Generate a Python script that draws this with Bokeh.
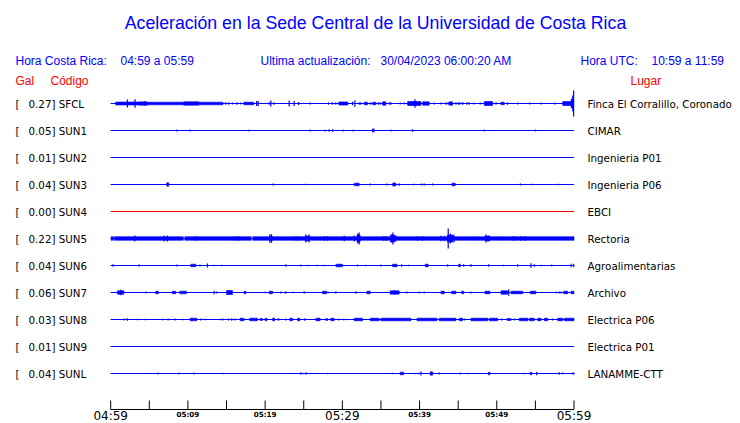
from bokeh.plotting import figure
from bokeh.models import Range1d
from bokeh.core.properties import value
from bokeh.embed import file_html
from bokeh.resources import INLINE

# ---------------- data ----------------
TITLE = "Aceleración en la Sede Central de la Universidad de Costa Rica"
HORA_CR = "04:59 a 05:59"
HORA_UTC = "10:59 a 11:59"
ACTUALIZACION = "30/04/2023 06:00:20 AM"

CODES = ["SFCL", "SUN1", "SUN2", "SUN3", "SUN4", "SUN5", "SUN6", "SUN7", "SUN8", "SUN9", "SUNL"]
GALS = [0.27, 0.05, 0.01, 0.04, 0.00, 0.22, 0.04, 0.06, 0.03, 0.01, 0.04]
PLACES = ["Finca El Corralillo, Coronado", "CIMAR", "Ingenieria P01", "Ingenieria P06", "EBCI",
          "Rectoria", "Agroalimentarias", "Archivo", "Electrica P06", "Electrica P01", "LANAMME-CTT"]

TICK_MINUTES = [0, 5, 10, 15, 20, 25, 30, 35, 40, 45, 50, 55, 60]
TICK_LABELS = ["04:59", "", "05:09", "", "05:19", "", "05:29", "", "05:39", "", "05:49", "", "05:59"]
MAJOR_TICK_LABELS = ["04:59", "05:29", "05:59"]

# bursts: (start minute, end minute, amplitude); spikes: (minute, amplitude)
SFCL_BURSTS = [(0.65, 4.80, 1.5), (4.80, 9.46, 1.3), (9.46, 11.40, 1.7), (11.40, 14.52, 1.3),
               (17.24, 18.53, 1.3), (29.55, 30.72, 1.6), (32.83, 33.27, 1.3), (33.92, 34.34, 1.3),
               (35.21, 35.64, 1.7), (38.45, 40.18, 2.0), (40.40, 41.25, 1.7), (43.84, 44.28, 1.7),
               (48.38, 49.47, 2.0), (50.54, 50.97, 1.3), (58.54, 59.62, 2.0), (59.62, 59.94, 4.0)]
SFCL_SPIKES = [(2.16, 4.0), (3.15, 4.3), (3.76, 2.3), (4.15, 2.3), (4.45, 2.5), (4.54, 2.3),
               (14.90, 1.3), (15.29, 1.3), (15.81, 1.0), (16.33, 1.3), (16.85, 1.0), (18.90, 2.5),
               (19.10, 2.5), (20.52, 1.2), (20.74, 3.0), (21.12, 1.3), (23.11, 3.0), (23.76, 2.5),
               (24.33, 1.5), (25.83, 1.0), (28.21, 1.3), (28.73, 1.3), (29.16, 1.3), (31.32, 1.7),
               (31.62, 3.3), (32.18, 1.3), (32.40, 1.3), (33.61, 1.3), (34.64, 1.3), (34.90, 1.3),
               (36.07, 1.3), (36.29, 1.3), (37.49, 1.0), (38.01, 1.0), (39.40, 4.3), (41.90, 1.0),
               (42.77, 1.0), (43.42, 1.3), (43.71, 1.3), (44.71, 1.3), (45.01, 1.3), (45.23, 1.3),
               (45.58, 1.3), (46.14, 1.3), (46.44, 1.3), (47.01, 1.0), (47.86, 1.0), (49.90, 1.3),
               (51.41, 1.3), (52.71, 1.0), (54.26, 1.0), (55.77, 1.0), (57.50, 1.0), (59.75, 5.0),
               (59.85, 8.0), (59.95, 13.0)]

SUN1_BURSTS = []
SUN1_SPIKES = [(8.55, 1.0), (10.28, 1.0), (17.92, 1.0), (25.83, 1.0), (27.77, 1.0), (28.29, 1.3),
               (28.73, 1.3), (30.11, 1.0), (31.40, 1.0), (33.92, 1.7), (34.08, 2.0), (36.29, 1.0),
               (39.10, 1.3), (48.38, 1.0), (54.99, 1.0)]

SUN2_BURSTS = []
SUN2_SPIKES = []

SUN3_BURSTS = [(7.26, 7.52, 1.7), (31.53, 32.18, 1.3), (36.51, 36.94, 1.3), (44.19, 44.62, 1.3)]
SUN3_SPIKES = [(21.03, 1.0), (25.31, 0.7), (33.61, 1.0), (35.73, 1.0), (36.68, 2.0), (37.36, 1.3),
               (39.23, 0.7), (40.27, 1.0), (40.60, 1.0), (41.69, 1.0), (53.05, 1.0), (54.60, 0.7),
               (57.97, 0.7)]

SUN4_BURSTS = []
SUN4_SPIKES = []

SUN5_BURSTS = [(0.05, 0.35, 1.8), (0.50, 9.40, 1.8), (9.60, 18.20, 1.8), (18.40, 60.0, 1.8),
               (20.60, 20.90, 2.5), (25.20, 25.70, 2.5), (31.90, 32.30, 3.5), (36.30, 36.80, 3.5),
               (43.60, 44.30, 3.5), (48.50, 49.00, 2.5)]
SUN5_SPIKES = [(3.11, 3.0), (6.91, 3.0), (7.35, 3.0), (11.11, 2.3), (16.11, 2.3), (16.55, 2.3),
               (20.61, 4.3), (20.83, 4.3), (23.76, 2.0), (24.11, 2.0), (24.40, 2.0), (25.27, 4.0),
               (25.70, 4.0), (27.64, 2.3), (28.08, 2.3), (30.24, 2.7), (31.53, 3.0), (32.00, 5.0),
               (32.18, 6.0), (35.34, 2.3), (35.64, 2.3), (36.29, 4.0), (36.55, 6.0), (36.94, 3.0),
               (39.75, 2.3), (40.40, 2.3), (42.77, 2.7), (43.20, 2.7), (43.71, 10.0), (44.00, 5.0),
               (44.45, 4.0), (47.30, 1.7), (48.60, 4.0), (49.03, 3.0), (50.54, 2.0), (52.06, 2.0),
               (52.27, 2.0), (53.14, 2.3), (53.65, 2.3)]

SUN6_BURSTS = [(10.37, 11.02, 1.3), (29.16, 30.03, 1.3), (36.51, 37.07, 1.3), (40.73, 41.12, 1.3),
               (45.06, 45.27, 1.3)]
SUN6_SPIKES = [(0.30, 1.3), (3.67, 1.3), (8.55, 1.0), (11.57, 1.0), (12.53, 2.0), (13.39, 0.7),
               (14.39, 0.7), (22.68, 1.3), (24.62, 1.0), (25.57, 0.7), (26.74, 0.7), (27.64, 0.7),
               (31.97, 1.0), (33.09, 0.7), (34.99, 1.0), (37.67, 1.3), (38.58, 0.7), (43.64, 1.3),
               (45.71, 1.3), (46.66, 1.3), (48.95, 1.3), (50.84, 0.7), (52.71, 1.3), (54.43, 2.3),
               (54.86, 1.3), (55.73, 0.7), (57.11, 1.0), (59.62, 1.7), (59.96, 1.7)]

SUN7_BURSTS = [(0.87, 1.72, 1.7), (5.83, 6.18, 1.3), (8.00, 8.42, 1.3), (8.94, 9.81, 1.3),
               (14.99, 15.77, 2.0), (17.28, 17.50, 1.3), (20.52, 20.96, 1.3), (27.44, 27.95, 1.3),
               (33.18, 33.61, 1.3), (36.20, 37.36, 1.7), (42.77, 43.20, 1.3), (44.15, 44.71, 1.3),
               (45.45, 45.71, 1.3), (48.47, 49.12, 1.3), (50.54, 51.41, 1.7), (51.84, 53.36, 1.3),
               (54.34, 55.08, 1.3), (58.67, 59.19, 1.3), (59.62, 60.0, 1.3)]
SUN7_SPIKES = [(1.30, 2.7), (4.57, 1.0), (13.39, 1.7), (13.70, 1.0), (20.00, 0.7), (22.03, 1.0),
               (22.68, 1.3), (23.63, 0.7), (25.05, 1.3), (28.16, 0.7), (29.16, 1.3), (31.75, 1.3),
               (36.72, 2.3), (38.36, 1.0), (39.96, 1.0), (40.60, 1.0), (46.66, 1.0), (51.54, 3.3),
               (57.67, 1.0), (58.10, 1.0), (58.32, 1.0)]

SUN8_BURSTS = [(10.28, 11.15, 1.3), (16.76, 17.28, 1.3), (18.01, 19.01, 1.3), (19.35, 19.66, 1.0),
               (20.00, 20.22, 1.3), (20.96, 21.25, 1.3), (23.20, 23.55, 1.3), (24.20, 24.49, 1.3),
               (26.57, 27.12, 1.3), (27.86, 28.08, 1.0), (28.51, 28.94, 1.3), (31.53, 32.62, 1.3),
               (33.61, 34.77, 1.3), (34.99, 38.88, 1.3), (39.66, 42.25, 1.3), (42.55, 44.71, 1.3),
               (45.14, 45.58, 1.3), (46.66, 48.82, 1.3), (49.03, 50.12, 1.3), (51.32, 51.84, 1.0),
               (52.92, 54.01, 1.3), (54.21, 54.86, 1.3), (55.30, 55.73, 1.3), (56.16, 56.60, 1.3),
               (57.89, 58.54, 1.3), (58.75, 60.0, 1.3)]
SUN8_SPIKES = [(1.72, 1.0), (2.16, 1.3), (3.46, 0.7), (4.45, 0.7), (6.70, 0.7), (7.43, 1.0),
               (8.33, 1.0), (9.37, 0.7), (11.66, 1.0), (12.22, 0.7), (14.17, 0.7), (14.55, 1.0),
               (15.25, 1.0), (15.68, 1.3), (16.11, 1.0), (21.73, 1.3), (22.68, 1.0), (25.14, 1.3),
               (29.51, 1.0), (30.11, 0.7), (30.46, 0.7), (45.88, 1.0), (50.63, 1.0), (52.27, 1.0),
               (57.24, 1.0)]

SUN9_BURSTS = []
SUN9_SPIKES = []

SUNL_BURSTS = [(37.49, 37.93, 1.3), (41.38, 41.69, 1.7), (48.90, 49.12, 1.3), (54.34, 54.52, 1.3)]
SUNL_SPIKES = [(6.13, 1.0), (8.85, 1.0), (10.80, 1.0), (14.55, 0.7), (24.62, 1.3), (24.92, 0.7),
               (25.31, 1.3), (28.08, 0.7), (36.51, 0.7), (39.40, 0.7), (39.83, 0.7), (40.18, 2.0),
               (42.55, 1.0), (45.27, 1.0), (46.31, 0.7), (53.49, 0.7), (55.17, 1.7), (58.10, 1.3),
               (58.54, 1.0), (59.84, 1.0), (59.98, 1.0)]

ALL_BURSTS = [SFCL_BURSTS, SUN1_BURSTS, SUN2_BURSTS, SUN3_BURSTS, SUN4_BURSTS, SUN5_BURSTS,
              SUN6_BURSTS, SUN7_BURSTS, SUN8_BURSTS, SUN9_BURSTS, SUNL_BURSTS]
ALL_SPIKES = [SFCL_SPIKES, SUN1_SPIKES, SUN2_SPIKES, SUN3_SPIKES, SUN4_SPIKES, SUN5_SPIKES,
              SUN6_SPIKES, SUN7_SPIKES, SUN8_SPIKES, SUN9_SPIKES, SUNL_SPIKES]

# ---------------- layout ----------------
W, H = 740, 423
OFF = 0                           # page offset of the canvas
X0_PX, X1_PX = 110.2, 573.5       # canvas px of minute 0 and minute 60
ROW0_PX, ROW_STEP = 103.0, 27.0   # canvas px of first trace, spacing between traces
PXM = (X1_PX - X0_PX) / 60.0


def X(sx):  # screen px -> data x
    return (sx - OFF - X0_PX) / PXM


def Y(sy):  # screen px -> data y
    return (sy - OFF - ROW0_PX) / ROW_STEP


AMP = 1.0 / ROW_STEP

p = figure(width=W, height=H, output_backend="svg", toolbar_location=None,
           x_range=Range1d(-X0_PX / PXM, 60 + (W - X1_PX) / PXM),
           y_range=Range1d((H - ROW0_PX) / ROW_STEP, -ROW0_PX / ROW_STEP),
           x_axis_location=None, y_axis_location=None, min_border=0,
           background_fill_color="white", border_fill_color="white")
p.outline_line_color = None
p.grid.visible = False

BLUE = "#0000ff"
RED = "#ff0000"

# traces
for i, (g, bursts, spikes) in enumerate(zip(GALS, ALL_BURSTS, ALL_SPIKES)):
    col = RED if g == 0 else BLUE
    p.segment(x0=[0], y0=[i], x1=[60], y1=[i], line_color=col, line_width=1)
    if bursts:
        p.quad(left=[b[0] for b in bursts], right=[b[1] for b in bursts],
               bottom=[i + b[2] * AMP for b in bursts], top=[i - b[2] * AMP for b in bursts],
               fill_color=col, line_color=col, line_width=0.6)
    if spikes:
        p.segment(x0=[s[0] for s in spikes], x1=[s[0] for s in spikes],
                  y0=[i - s[1] * AMP for s in spikes], y1=[i + s[1] * AMP for s in spikes],
                  line_color=col, line_width=1.2)

rows = list(range(len(CODES)))
SANS = value("Liberation Sans")
DJV = value("DejaVu Sans")

# left / right labels
p.text(x=[X(15)] * len(CODES), y=rows, text=["["] * len(CODES),
       text_font=DJV, text_font_size="10.3px", text_color="black",
       text_align="left", text_baseline="middle")
p.text(x=[X(28)] * len(CODES), y=rows, text=[f"{g:.2f}] {c}" for g, c in zip(GALS, CODES)],
       text_font=DJV, text_font_size="10.3px", text_color="black",
       text_align="left", text_baseline="middle")
p.text(x=[X(587)] * len(CODES), y=rows, text=PLACES,
       text_font=DJV, text_font_size="10.3px", text_color="black",
       text_align="left", text_baseline="middle")

# title
p.text(x=[X(375)], y=[Y(22.5)], text=[TITLE], text_font=SANS, text_font_size="17.7px",
       text_color=BLUE, text_align="center", text_baseline="middle")

# header line
p.text(x=[X(15), X(120), X(260), X(380), X(580), X(651)], y=[Y(60.5)] * 6,
       text=["Hora Costa Rica:", HORA_CR, "Ultima actualización:", ACTUALIZACION, "Hora UTC:", HORA_UTC],
       text_font=SANS, text_font_size="12px", text_color=BLUE,
       text_align="left", text_baseline="middle")
p.text(x=[X(15), X(50), X(630)], y=[Y(80.5)] * 3, text=["Gal", "Código", "Lugar"],
       text_font=SANS, text_font_size="12px", text_color=RED,
       text_align="left", text_baseline="middle")

# time axis
ay = Y(409.0)
p.segment(x0=[0], y0=[ay], x1=[60], y1=[ay], line_color="black", line_width=1)
p.segment(x0=TICK_MINUTES, x1=TICK_MINUTES, y0=[Y(400)] * len(TICK_MINUTES),
          y1=[ay] * len(TICK_MINUTES), line_color="black", line_width=1)
big = [(m, t) for m, t in zip(TICK_MINUTES, TICK_LABELS) if t in MAJOR_TICK_LABELS]
small = [(m, t) for m, t in zip(TICK_MINUTES, TICK_LABELS) if t and t not in MAJOR_TICK_LABELS]
p.text(x=[m for m, _ in big], y=[Y(415.5)] * len(big), text=[t for _, t in big],
       text_font=DJV, text_font_size="12px", text_color="black",
       text_align="center", text_baseline="middle")
p.text(x=[m for m, _ in small], y=[Y(414)] * len(small), text=[t for _, t in small],
       text_font=DJV, text_font_size="7.2px", text_font_style="bold", text_color="black",
       text_align="center", text_baseline="middle")

open("out.html", "w").write(file_html(p, INLINE))
